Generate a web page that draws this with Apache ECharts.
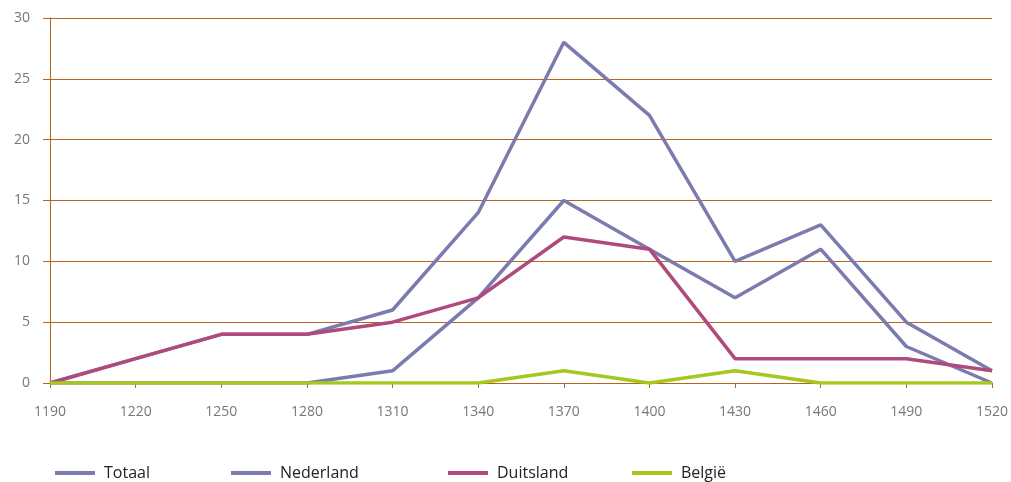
<!DOCTYPE html>
<html>
<head>
<meta charset="utf-8">
<script src="https://cdn.jsdelivr.net/npm/echarts@6/dist/echarts.min.js"></script>
<style>html,body{margin:0;padding:0;background:#fff;}#c{width:1011px;height:482px;}</style>
</head>
<body>
<div id="c"></div>
<script>
const years = ['1190','1220','1250','1280','1310','1340','1370','1400','1430','1460','1490','1520'];
const totaal    = [0, 2, 4, 4, 6, 14, 28, 22, 10, 13, 5, 1];
const nederland = [0, 0, 0, 0, 1, 7, 15, 11, 7, 11, 3, 0];
const duitsland = [0, 2, 4, 4, 5, 7, 12, 11, 2, 2, 2, 1];
const belgie    = [0, 0, 0, 0, 0, 0, 1, 0, 1, 0, 0, 0];
const yTicks = [0, 5, 10, 15, 20, 25, 30];

const brown = '#b5651d';
const font = '"Open Sans", sans-serif';
const chart = echarts.init(document.getElementById('c'));
function mk(name, data, color) {
  return { name, type: 'line', data, symbol: 'none', lineStyle: { width: 3.5, color }, itemStyle: { color }, animation: false };
}
function lg(name, left) {
  return { data: [name], left, top: 465, padding: 0, icon: 'rect', itemWidth: 40, itemHeight: 4,
    textStyle: { fontFamily: font, fontSize: 16, color: '#222', padding: [0, 0, 0, 4] } };
}
chart.setOption({
  animation: false,
  grid: { left: 50, right: 16, top: 18, bottom: 99 },
  legend: [lg('Totaal', 55), lg('Nederland', 231), lg('Duitsland', 448), lg('België', 632)],
  xAxis: {
    type: 'category', data: years, boundaryGap: false,
    axisLine: { lineStyle: { color: brown, width: 1 } },
    axisTick: { show: true, length: 5, lineStyle: { color: brown } },
    axisLabel: { fontFamily: font, fontSize: 14, color: '#777', margin: 22 }
  },
  yAxis: {
    type: 'value', min: yTicks[0], max: yTicks[yTicks.length - 1], interval: 5,
    axisLine: { show: true, lineStyle: { color: brown, width: 1 } },
    axisTick: { show: true, length: 7, lineStyle: { color: brown } },
    splitLine: { lineStyle: { color: brown, width: 1 } },
    axisLabel: { fontFamily: font, fontSize: 14, color: '#777', margin: 20 }
  },
  series: [
    mk('Totaal', totaal, '#7b7bb0'),
    mk('Nederland', nederland, '#7b7bb0'),
    mk('Duitsland', duitsland, '#b04a7c'),
    mk('België', belgie, '#a6c81e')
  ]
});
</script>
</body>
</html>
